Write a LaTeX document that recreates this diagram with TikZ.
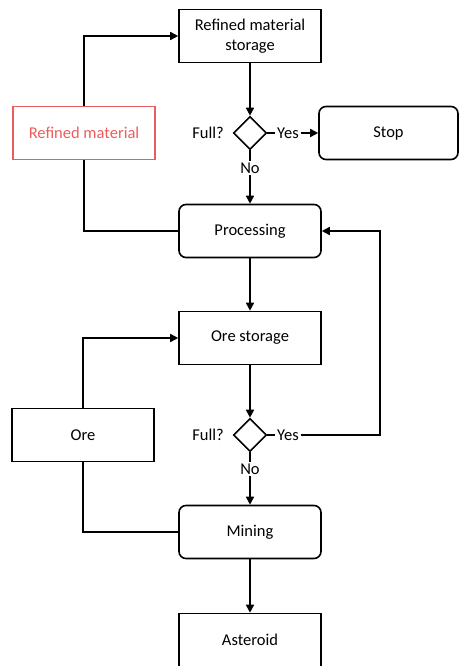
\documentclass[tikz,border=0pt]{standalone}
\usepackage{fontspec}
\setmainfont{Carlito}
\usetikzlibrary{shapes.geometric,arrows.meta}
\definecolor{refred}{RGB}{237,92,92}
\begin{document}
\begin{tikzpicture}[x = 1pt, y = -1pt, line width = 1.6pt,
  font = \fontsize{16.5}{19.5}\selectfont,
  box/.style = {draw, minimum width = 142pt, minimum height = 53pt, align = center, inner sep = 2pt},
  act/.style = {box, rounded corners = 7pt},
  dec/.style = {draw, diamond, minimum size = 33pt, inner sep = 0pt},
  lbl/.style = {inner sep = 1pt},
  flow/.style = {-{Triangle[length = 8pt, width = 8pt]}}]
  \clip (0, 0) rectangle (459, 666);
  % upper loop
  \node[box] (store) at (250, 36) {Refined material\\storage};
  \node[dec] (full1) at (250, 133) {};
  \node[lbl] (ask1) at (208, 133) {Full?};
  \node[lbl] (yes1) at (288, 133) {Yes};
  \node[lbl] (no1) at (250, 168) {No};
  \node[act, minimum width = 139pt] (stop) at (388.5, 133) {Stop};
  \node[box, draw = refred, text = refred] (refined) at (84, 133) {Refined material};
  \node[act] (proc) at (250, 231) {Processing};
  % lower loop
  \node[box] (orestore) at (250, 338) {Ore storage};
  \node[dec] (full2) at (250, 435) {};
  \node[lbl] (ask2) at (208, 435) {Full?};
  \node[lbl] (yes2) at (288, 435) {Yes};
  \node[lbl] (no2) at (250, 469) {No};
  \node[act] (mine) at (250, 532) {Mining};
  \node[box] (ore) at (83, 435) {Ore};
  \node[box] (rock) at (250, 640) {Asteroid};
  \coordinate (back) at (380, 231);

  \draw[flow] (store) -- (full1);
  \draw (full1) -- (yes1);
  \draw[flow] (yes1) -- (stop);
  \draw (full1) -- (no1);
  \draw[flow] (no1) -- (proc);
  \draw (proc.west) -| (refined);
  \draw[flow] (refined) |- (store);
  \draw[flow] (proc) -- (orestore);
  \draw[flow] (orestore) -- (full2);
  \draw (full2) -- (yes2);
  \draw[flow] (yes2) -| (back) -- (proc.east);
  \draw (full2) -- (no2);
  \draw[flow] (no2) -- (mine);
  \draw (mine.west) -| (ore);
  \draw[flow] (ore) |- (orestore);
  \draw[flow] (mine) -- (rock);
\end{tikzpicture}
\end{document}
